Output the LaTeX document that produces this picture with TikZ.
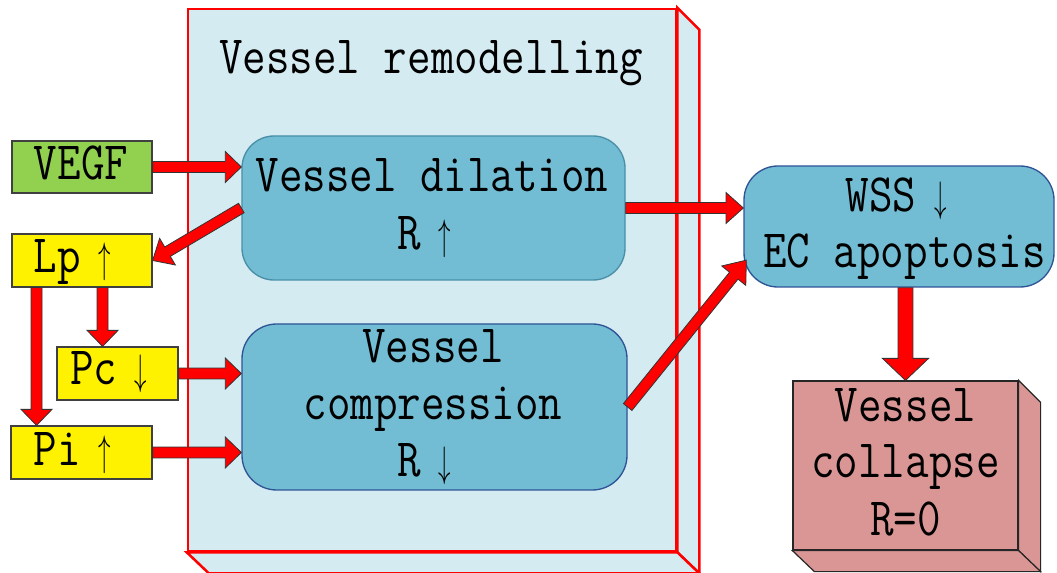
\documentclass[tikz,border=0pt]{standalone}
\usepackage{fontspec}
\usetikzlibrary{calc}
\definecolor{bgblue}{HTML}{D4EBF1}
\definecolor{boxblue}{HTML}{72BDD3}
\definecolor{boxedge}{HTML}{2F5496}
\definecolor{boxedgeb}{HTML}{4A8FA8}
\definecolor{vgreen}{HTML}{92D050}
\definecolor{collred}{HTML}{D99694}
\definecolor{arrred}{HTML}{FF0000}
\newcommand\st[1]{\scalebox{0.846}[1]{#1}}
\newcommand\ua{\makebox[42.5pt]{\resizebox*{11pt}{28.5pt}{$\uparrow$}}}
\newcommand\da{\makebox[42.5pt]{\resizebox*{11pt}{28.5pt}{$\downarrow$}}}
% #1 start, #2 end, #3 shaft half width, #4 head half width, #5 head length
\newcommand\blockarrow[5]{%
  \coordinate (bA) at (#1);
  \coordinate (bB) at (#2);
  \coordinate (bH) at ($(bB)!#5!(bA)$);
  \filldraw[blockarr] ($(bA)!#3!-90:(bB)$) -- ($(bH)!#3!-90:(bB)$) -- ($(bH)!#4!-90:(bB)$) -- (bB)
     -- ($(bH)!#4!90:(bB)$) -- ($(bH)!#3!90:(bB)$) -- ($(bA)!#3!90:(bB)$) -- cycle;}
\tikzset{
  blockarr/.style={fill=arrred, draw=black!80, line width=0.6pt, line join=miter},
  remodface/.style={fill=bgblue, draw=arrred, line width=1.9pt, line join=miter},
  smallbox/.style={draw=black!75, line width=0.9pt, inner sep=0, rectangle},
  roundbox/.style={fill=boxblue, draw=boxedge, line width=1pt, rounded corners=24pt, inner sep=0, rectangle},
  collface/.style={fill=collred, draw=black!85, line width=0.9pt, line join=miter},
  txt/.style={inner sep=0, anchor=base, font=\ttfamily\fontsize{40.5pt}{48pt}\selectfont}
}
\begin{document}
\begin{tikzpicture}[x=0.75pt,y=-0.75pt]
\useasboundingbox (0,0) rectangle (1057,573);
\fill[white] (0,0) rectangle (1057,573);

% Vessel remodelling 3D box
\node[remodface, minimum width=366pt, minimum height=406.5pt] (remod) at (432,280) {};
\filldraw[remodface] (remod.north east) -- ++(22,22) -- ($(remod.south east)+(22,21)$) -- (remod.south east) -- cycle;
\filldraw[remodface] (remod.south west) -- ++(22,21) -- ($(remod.south east)+(22,21)$) -- (remod.south east) -- cycle;

% inner boxes
\node[roundbox, draw=boxedgeb, minimum width=287.25pt, minimum height=108pt] (dil) at (433.5,208) {};
\node[roundbox, minimum width=288.75pt, minimum height=124.5pt, rounded corners=26pt] (comp) at (434.5,407) {};
\node[roundbox, minimum width=232.5pt, minimum height=90.75pt, rounded corners=25.5pt] (wss) at (899,226.5) {};

% collapse 3D box
\node[collface, rectangle, inner sep=0, minimum width=168.75pt, minimum height=126.75pt] (coll) at (905.5,465.5) {};
\filldraw[collface] (coll.north east) -- ++(22,22) -- ($(coll.south east)+(22,21)$) -- (coll.south east) -- cycle;
\filldraw[collface] (coll.south west) -- ++(22,21) -- ($(coll.south east)+(22,21)$) -- (coll.south east) -- cycle;

% left boxes
\node[smallbox, fill=vgreen, minimum width=105pt, minimum height=39pt] (vegf) at (82,167) {};
\node[smallbox, fill=yellow, minimum width=105pt, minimum height=39.75pt] (lp) at (82,260.5) {};
\node[smallbox, fill=yellow, minimum width=90.75pt, minimum height=39.75pt] (pc) at (117.5,373.5) {};
\node[smallbox, fill=yellow, minimum width=105.75pt, minimum height=39.75pt] (pi) at (81.5,452.5) {};

% texts
\node[txt] (tremod) at (431,74) {\st{Vessel remodelling}};
\node[txt] (tdil1) at (432,192) {\st{Vessel dilation}};
\node[txt] (tdil2) at (433,250) {\st{R\ua}};
\node[txt] (tcomp1) at (433,363) {\st{Vessel}};
\node[txt] (tcomp2) at (433,420) {\st{compression}};
\node[txt] (tcomp3) at (433,477) {\st{R\da}};
\node[txt] (twss1) at (905,212) {\st{WSS\da}};
\node[txt] (twss2) at (904.5,268) {\st{EC apoptosis}};
\node[txt] (tcoll1) at (905.5,422) {\st{Vessel}};
\node[txt] (tcoll2) at (905.5,478) {\st{collapse}};
\node[txt] (tcoll3) at (905.5,535) {\st{R=0}};
\node[txt] (tvegf) at (81,180) {\st{VEGF}};
\node[txt] (tlp) at (81,273) {\st{Lp\ua}};
\node[txt] (tpc) at (117.5,385) {\st{Pc\da}};
\node[txt] (tpi) at (81,466) {\st{Pi\ua}};

% connectors
\coordinate (lpc) at ([xshift=15.4pt]lp.south);
\coordinate (lpi) at ([xshift=-34.1pt]lp.south);
\blockarrow{vegf.east}{vegf.east -| dil.west}{4.1pt}{11.6pt}{12pt}
\blockarrow{dil.west}{lp.east}{4.1pt}{11.6pt}{13pt}
\blockarrow{lpc}{lpc |- pc.north}{4.1pt}{11.6pt}{12pt}
\blockarrow{lpi}{lpi |- pi.north}{4.1pt}{11.6pt}{12pt}
\blockarrow{pc.east}{pc.east -| comp.west}{4.1pt}{11.6pt}{12pt}
\blockarrow{pi.east}{pi.east -| comp.west}{4.1pt}{11.6pt}{12pt}
\blockarrow{dil.east}{dil.east -| wss.west}{4.1pt}{11.6pt}{13pt}
\blockarrow{comp.east}{$(wss.west)!0.55!(wss.south west)+(3,0)$}{4.1pt}{11.6pt}{15pt}
\blockarrow{coll.north |- wss.south}{coll.north}{5.6pt}{17.3pt}{16.5pt}
\end{tikzpicture}
\end{document}
